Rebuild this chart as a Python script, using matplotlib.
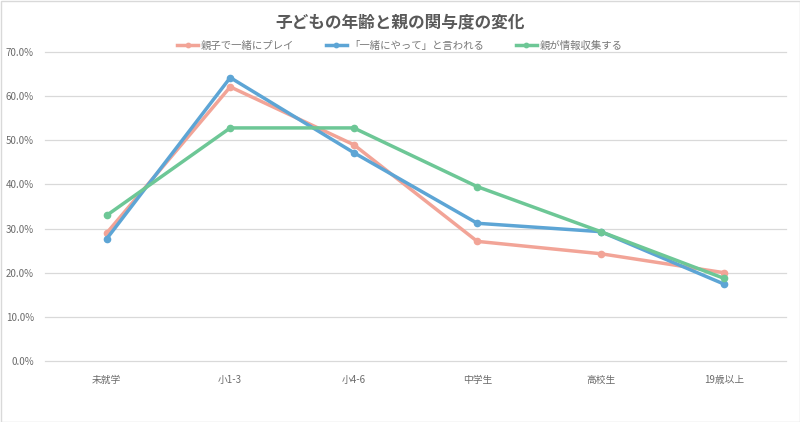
import matplotlib as mpl
mpl.use('Agg')

import matplotlib.pyplot as plt
import matplotlib.ticker as mticker
from matplotlib.patches import Rectangle

plt.rcParams['font.family'] = ['Noto Sans CJK JP', 'DejaVu Sans']

categories = ["未就学", "小1-3", "小4-6", "中学生", "高校生", "19歳以上"]
play_together = [29.0, 62.1, 49.0, 27.1, 24.3, 20.0]
asked_to_join = [27.7, 64.2, 47.2, 31.2, 29.3, 17.4]
parent_research = [33.0, 52.8, 52.8, 39.5, 29.3, 18.7]

series_names = ["親子で一緒にプレイ", "「一緒にやって」と言われる", "親が情報収集する"]
series_colors = ["#F2A497", "#5DA5D5", "#6DC796"]

font_color = "#595959"
tick_color = "#6b6b6b"

fig = plt.figure(figsize=(8, 4.22), dpi=100)
ax = fig.add_axes([45 / 800, 1 - 361 / 422, 741 / 800, 309 / 422])

x = range(len(categories))
for vals, name, col in zip([play_together, asked_to_join, parent_research], series_names, series_colors):
    ax.plot(x, [v / 100 for v in vals], color=col, lw=2.5, marker='o', markersize=4.5,
            label=name, solid_joinstyle='round')

ax.set_ylim(0, 0.7)
ax.set_xlim(-0.5, len(categories) - 0.5)
ax.yaxis.set_major_locator(mticker.MultipleLocator(0.1))
ax.yaxis.set_major_formatter(mticker.PercentFormatter(1.0, decimals=1))
ax.set_xticks(list(x))
ax.set_xticklabels(categories)

ax.grid(axis='y', color='#d9d9d9', lw=0.9)
ax.set_axisbelow(True)
for gl in ax.get_ygridlines():
    gl.set_clip_on(False)
for s in ax.spines.values():
    s.set_visible(False)
ax.tick_params(axis='both', length=0, colors=tick_color, labelsize=7)
ax.tick_params(axis='x', pad=10)
ax.tick_params(axis='y', pad=8)

# Title and legend
fig.text(0.5, 1 - 22 / 422, "子どもの年齢と親の関与度の変化", ha='center', va='center',
         fontsize=12, fontweight='bold', color=font_color)
leg = fig.legend(loc='center', bbox_to_anchor=(0.5, 1 - 46 / 422), ncol=3, frameon=False,
                 fontsize=7.5, handlelength=2.0, columnspacing=3.0, handletextpad=0.3,
                 markerscale=0.7)
for t in leg.get_texts():
    t.set_color("#777777")

# Light border around chart
fig.add_artist(Rectangle((0.5 / 800, 0.5 / 422), 799 / 800, 421 / 422, transform=fig.transFigure,
                         fill=False, ec='#d9d9d9', lw=1))

plt.savefig("out.png", dpi=100)
